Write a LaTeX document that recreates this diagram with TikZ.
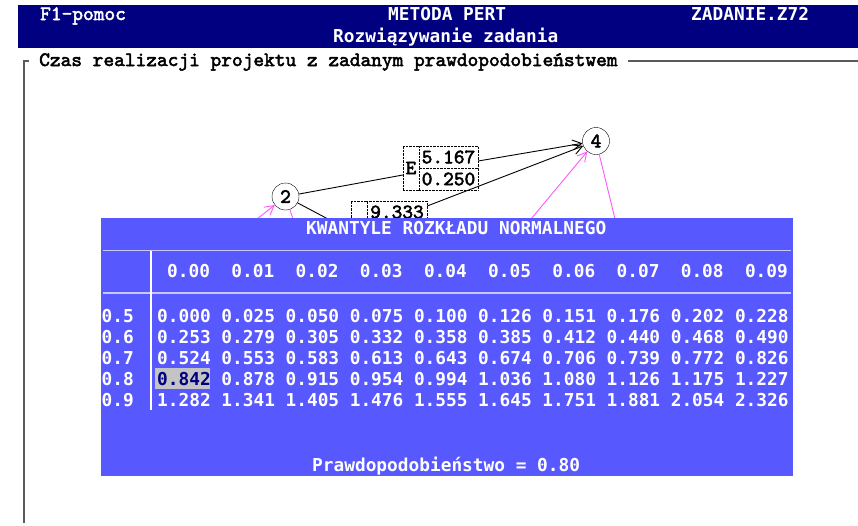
\documentclass[tikz,border=0pt]{standalone}
\usepackage{fontspec}
\newfontfamily\dosfont{DejaVu Sans Mono}
\newfontfamily\courfont{lmmono10-regular.otf}[FakeBold=2.5]
\usetikzlibrary{arrows.meta}
\definecolor{banner}{HTML}{000080}
\definecolor{panel}{HTML}{5858FF}
\definecolor{pinkline}{HTML}{FF55FF}
\definecolor{rulecol}{HTML}{C8C8FF}
\definecolor{framecol}{HTML}{5A5A5A}
\definecolor{markcol}{HTML}{C4C4C4}

\begin{document}
\begin{tikzpicture}[
        x=1pt, y=-1pt,
        dos/.style={font=\dosfont\bfseries\fontsize{17.8}{20}\selectfont, inner sep=0pt},
        cour/.style={font=\courfont\fontsize{20.4}{22}\selectfont, inner sep=0pt},
        event/.style={cour, draw, circle, minimum size=27pt, fill=white},
        lbl/.style={cour, draw, densely dotted, minimum height=22pt, fill=white},
        act/.style={line width=0.9pt},
        dummy/.style={pinkline, line width=0.9pt},
        arr/.style={-{Straight Barb[length=9pt,width=10pt]}}]

  \fill[white] (0,0) rectangle (858,525);
  \useasboundingbox (0,0) rectangle (858,525);

  % header bar ---------------------------------------------
  \fill[banner] (18,5) rectangle (858,48);
  \node[cour, white, anchor=base west] (help)   at (40,20)  {F1-pomoc};
  \node[dos,  white, anchor=base west] (method) at (388,20) {METODA PERT};
  \node[dos,  white, anchor=base west] (task)   at (691,20) {ZADANIE.Z72};
  \node[dos,  white, anchor=base west] (mode)   at (333,42) {Rozwiązywanie zadania};

  % frame --------------------------------------------------
  \node[cour, anchor=base west] (title) at (39,66)
        {Czas realizacji projektu z zadanym prawdopodobieństwem};
  \draw[framecol, line width=1.5pt] (24,523) -- (24,61) -- (29,61);
  \draw[framecol, line width=1.5pt] (628,61) -- (858,61);

  % network (partly under the table) -----------------------
  \node[event] (n2) at (285.5,196.5) {2};
  \node[event] (n4) at (596,141) {4};
  \node[lbl, minimum width=16pt, minimum height=44pt] (eL) at (411,168) {E};
  \node[lbl, minimum width=59pt] (eT) at (448.5,157) {5.167};
  \node[lbl, minimum width=59pt] (eB) at (448.5,179) {0.250};
  \node[lbl, minimum width=16pt, minimum height=44pt] (cL) at (359,223) {};
  \node[lbl, minimum width=60pt] (cT) at (397,212) {9.333};

  \coordinate (d2)    at (328,219);
  \coordinate (p2in)  at (257,219);
  \coordinate (p2out) at (293,219);
  \coordinate (p4in)  at (531,219);
  \coordinate (p4out) at (615,219);

  \draw[act] (n2) -- ([yshift=-7pt]eL.west);
  \draw[act, arr] ([yshift=-4pt]eT.east) -- (n4);
  \draw[act, arr] ([yshift=6pt]cT.east) -- (n4);
  \draw[act] (n2) -- (d2);

  \draw[dummy, arr] (p2in) -- (n2);
  \draw[dummy] (n2) -- (p2out);
  \draw[dummy, arr] (p4in) -- (n4);
  \draw[dummy] (n4) -- (p4out);

  % quantile table -----------------------------------------
  \node[fill=panel, minimum width=692pt, minimum height=258pt, inner sep=0pt,
        anchor=north west] (tbl) at (100.5,218) {};
  \node[dos, white, anchor=base west] (ttl) at (306,234.5) {KWANTYLE ROZKŁADU NORMALNEGO};
  \draw[rulecol, line width=1.5pt] (103,250.5) -- (791,250.5);
  \draw[rulecol, line width=1.5pt] (103,293) -- (791,293);
  \draw[white, line width=1.5pt] (151,250.5) -- (151,410);

  \foreach \i in {0,...,9}
    \node[dos, white, anchor=base west] (h\i) at ({167+64.2*\i},277.5) {0.0\i};

  \fill[markcol] (155,367.5) rectangle (209.5,388.5);

  \foreach \p/\vals [count=\k from 0] in {
      0.5/{0.000,0.025,0.050,0.075,0.100,0.126,0.151,0.176,0.202,0.228},
      0.6/{0.253,0.279,0.305,0.332,0.358,0.385,0.412,0.440,0.468,0.490},
      0.7/{0.524,0.553,0.583,0.613,0.643,0.674,0.706,0.739,0.772,0.826},
      0.8/{0.842,0.878,0.915,0.954,0.994,1.036,1.080,1.126,1.175,1.227},
      0.9/{1.282,1.341,1.405,1.476,1.555,1.645,1.751,1.881,2.054,2.326}} {
    \node[dos, white, anchor=base west] (r\k) at (101.5,{322+21*\k}) {\p};
    \foreach \v [count=\j from 0] in \vals {
      \ifnum\numexpr\k*10+\j\relax=30 \def\tc{banner}\else\def\tc{white}\fi
      \node[dos, text=\tc, anchor=base west] (c\k\j) at ({157+64.2*\j},{322+21*\k}) {\v};
    }
  }

  \node[dos, white, anchor=base west] (prob) at (312,471) {Prawdopodobieństwo = 0.80};

\end{tikzpicture}
\end{document}
